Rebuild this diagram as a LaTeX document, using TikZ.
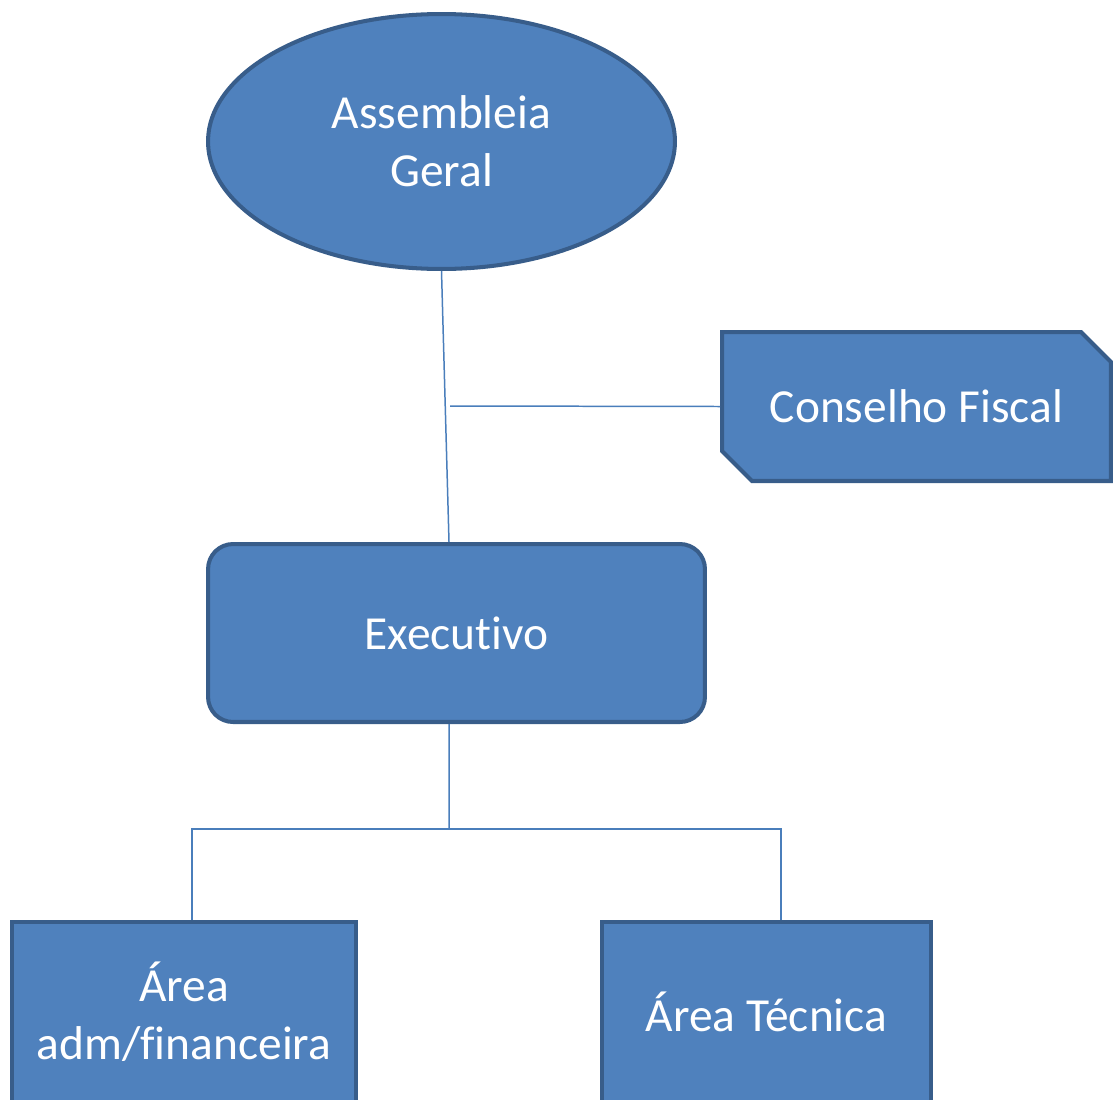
\documentclass[tikz,border=0pt]{standalone}
\usepackage{fontspec}
\setmainfont[Ligatures=NoCommon]{Carlito}
\usepackage{tikz}
\usetikzlibrary{shapes.geometric,shapes.misc,positioning}

\definecolor{boxfill}{HTML}{4F81BD}
\definecolor{boxline}{HTML}{385D8A}
\definecolor{linkline}{HTML}{4A7EBB}

\begin{document}
\begin{tikzpicture}[
  x=0.02cm, y=-0.02cm,
  unit/.style={draw=boxline, fill=boxfill, line width=2.3pt, text=white, align=center,
    inner sep=0pt, font=\fontsize{27}{33}\selectfont},
  oval/.style={unit, ellipse, minimum width=9.34cm, minimum height=5.1cm},
  snip/.style={unit, chamfered rectangle, chamfered rectangle corners={north east, south west},
    chamfered rectangle xsep=0.3cm, chamfered rectangle ysep=0.3cm,
    minimum width=7.78cm, minimum height=2.98cm},
  block/.style={unit, rectangle, rounded corners=0.5cm, minimum width=9.94cm, minimum height=3.56cm},
  area/.style={unit, rectangle, minimum height=3.6cm},
  link/.style={draw=linkline, line width=0.85pt}
]
\useasboundingbox (0,0) rectangle (1115,1099);
\clip (0,0) rectangle (1115,1099);

\node[oval] (assembleia) at (441.5,141.5) {Assembleia\\Geral};
\node[snip] (conselho) at (916.5,406.5) {Conselho Fiscal};
\node[block] (executivo) at (456.5,633) {Executivo};
\node[area, minimum width=6.88cm] (adm) at (184,1012) {Área\\adm/financeira};
\node[area, minimum width=6.58cm] (tecnica) at (766.5,1012) {Área Técnica};

\coordinate (tap) at (450,406);
\coordinate (split) at (449,829);

\draw[link] (assembleia.south) -- ([xshift=-0.15cm]executivo.north);
\draw[link] (tap) -- (conselho.west);
\draw[link] ([xshift=-0.15cm]executivo.south) -- (split);
\draw[link] ([xshift=0.16cm]adm.north) |- (split) -| ([xshift=0.29cm]tecnica.north);
\end{tikzpicture}
\end{document}
